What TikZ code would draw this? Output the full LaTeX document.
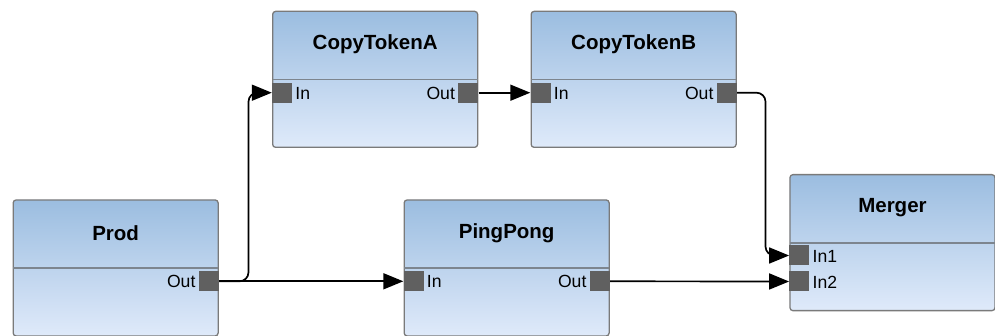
\documentclass[tikz,border=0pt]{standalone}
\usepackage{fontspec}
\setmainfont{Liberation Sans}
\usetikzlibrary{arrows.meta,positioning,calc}

\definecolor{blocktop}{HTML}{9BBDE0}
\definecolor{blockbot}{HTML}{DFEAFA}
\definecolor{blockedge}{HTML}{7A7A7A}
\definecolor{sepline}{HTML}{7D858E}
\definecolor{portfill}{HTML}{606060}

\tikzset{
  block/.style={draw=blockedge, line width=1.3pt, rounded corners=3pt,
    top color=blocktop, bottom color=blockbot,
    minimum width=205pt, minimum height=136pt, inner sep=0pt,
    anchor=north west},
  blocktitle/.style={font=\fontsize{20.5}{24}\selectfont\bfseries, inner sep=0pt},
  sepbar/.style={draw=sepline, line width=1.6pt},
  port/.style={fill=portfill, draw=none, minimum width=20pt, minimum height=20pt,
    inner sep=0pt},
  portlabel/.style={font=\fontsize{17.6}{21}\selectfont, inner sep=0pt},
  conn/.style={draw=black, line width=1.7pt, rounded corners=9pt,
    -{Triangle[length=20pt,width=16pt]}},
}

% Draw one actor block: name, top-left corner, title
\newcommand\actorblock[3]{%
  \node[block] (#1) at (#2) {};
  \node[blocktitle] (#1-title) at ([yshift=-33.5pt]#1.north) {#3};
  \draw[sepbar] ([yshift=-69pt,xshift=0.6pt]#1.north west) -- ([yshift=-69pt,xshift=-0.6pt]#1.north east);
}
% Input port on the left edge, at a given depth below the top
\newcommand\inport[4]{%
  \node[port] (#1-#2) at ([xshift=10pt,yshift=-#3pt]#1.north west) {};
  \node[portlabel, anchor=west] (#1-#2-lbl) at ([xshift=3pt,yshift=-0.5pt]#1-#2.east) {#4};
}
% Output port on the right edge
\newcommand\outport[4]{%
  \node[port] (#1-#2) at ([xshift=-10pt,yshift=-#3pt]#1.north east) {};
  \node[portlabel, anchor=east] (#1-#2-lbl) at ([xshift=-3pt,yshift=-0.5pt]#1-#2.west) {#4};
}

\begin{document}
\begin{tikzpicture}[x=1pt,y=-1pt]
  \useasboundingbox (0,0) rectangle (995,336);

  \actorblock{cta}{272,10.7}{CopyTokenA}
  \actorblock{ctb}{530.5,10.7}{CopyTokenB}
  \actorblock{prod}{12.5,199.3}{Prod}
  \actorblock{pp}{403.5,199.3}{PingPong}
  \actorblock{mrg}{789.3,174}{Merger}

  \inport{cta}{in}{82}{In}
  \outport{cta}{out}{82}{Out}
  \inport{ctb}{in}{82}{In}
  \outport{ctb}{out}{82}{Out}
  \outport{prod}{out}{82}{Out}
  \inport{pp}{in}{82}{In}
  \outport{pp}{out}{82}{Out}
  \inport{mrg}{in1}{81.5}{In1}
  \inport{mrg}{in2}{107.5}{In2}

  % connectors
  \draw[conn] (prod-out.east) -- ++(29.5,0) |- (cta-in.west);
  \draw[conn] (prod-out.east) -- (pp-in.west);
  \draw[conn] (cta-out.east) -- (ctb-in.west);
  \draw[conn] (ctb-out.east) -- ++(28.5,0) |- (mrg-in1.west);
  \draw[conn] (pp-out.east) -- (mrg-in2.west);
\end{tikzpicture}
\end{document}
